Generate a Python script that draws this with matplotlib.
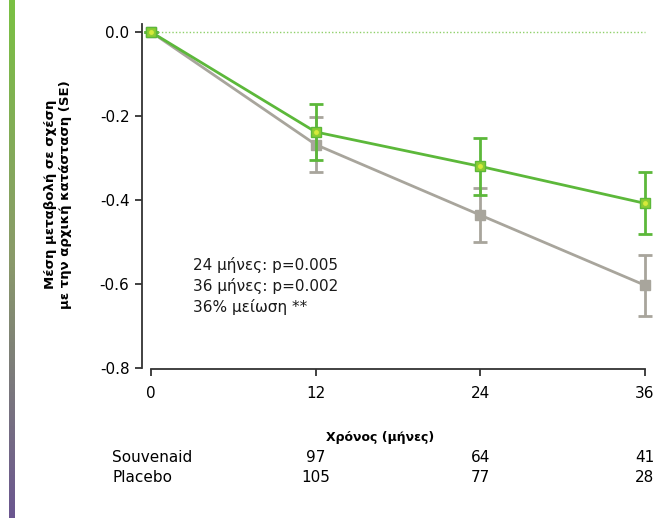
import numpy as np
import matplotlib
matplotlib.use("Agg")
import matplotlib.pyplot as plt
from matplotlib.colors import LinearSegmentedColormap

months = [0, 12, 24, 36]
souvenaid_mean = [0.0, -0.238, -0.320, -0.408]
souvenaid_se = [0.0, 0.066, 0.067, 0.074]
placebo_mean = [0.0, -0.268, -0.436, -0.603]
placebo_se = [0.0, 0.065, 0.065, 0.072]
yticks = [0.0, -0.2, -0.4, -0.6, -0.8]
n_souvenaid = [97, 64, 41]
n_placebo = [105, 77, 28]
annot_lines = ["24 μήνες: p=0.005", "36 μήνες: p=0.002", "36% μείωση **"]

W, H = 662, 518
fig = plt.figure(figsize=(W / 100, H / 100), dpi=100)
plt.rcParams['font.family'] = ['DejaVu Sans']

# left gradient bar
bar_ax = fig.add_axes([9 / W, 0, 6 / W, 1])
cmap = LinearSegmentedColormap.from_list("g", ["#7ac143", "#8a9a6a", "#6b5690"])
bar_ax.imshow(np.linspace(0, 1, 256).reshape(-1, 1), aspect='auto', cmap=cmap)
bar_ax.axis('off')

# main axes
x0_px, x36_px = 151, 645
y0_px, y08_px = 32, 368
ax_left, ax_right, ax_top, ax_bot = 142, 655, 20, 369
ppx = (x36_px - x0_px) / 36.0
ppy = (y08_px - y0_px) / 0.8
ax = fig.add_axes([ax_left / W, 1 - ax_bot / H, (ax_right - ax_left) / W, (ax_bot - ax_top) / H])
ax.set_xlim(-(x0_px - ax_left) / ppx, 36 + (ax_right - x36_px) / ppx)
ax.set_ylim(-0.8 - (ax_bot - y08_px) / ppy, (y0_px - ax_top) / ppy)

green = '#5cb83a'
gray = '#a8a59c'

ax.plot([0, 36], [0, 0], linestyle=(0, (1, 1.5)), color='#8fd06a', lw=1.0, zorder=1)

ax.errorbar(months, placebo_mean, yerr=placebo_se, color=gray, lw=2.0, elinewidth=2.0,
            capsize=4.7, capthick=2.0, marker='s', markersize=7.5, markerfacecolor='#a8a59c',
            markeredgecolor='#a8a59c', zorder=3)
ax.errorbar(months, souvenaid_mean, yerr=souvenaid_se, color=green, lw=2.0, elinewidth=2.0,
            capsize=4.7, capthick=2.0, marker='s', markersize=7.5, markerfacecolor='#8ccc32',
            markeredgecolor='#5cb83a', zorder=4)
ax.plot(months, souvenaid_mean, linestyle='none', marker='o', markersize=3.5,
        markerfacecolor='#d6ea3a', markeredgecolor='none', zorder=5)

for s in ['top', 'right']:
    ax.spines[s].set_visible(False)
ax.spines['left'].set_bounds(-0.8, 0.02)
ax.spines['bottom'].set_bounds(0, 36)
ax.spines['left'].set_color('#333333')
ax.spines['bottom'].set_color('#333333')
ax.spines['left'].set_linewidth(1.3)
ax.spines['bottom'].set_linewidth(1.3)

ax.set_yticks(yticks)
ax.set_yticklabels([f"{v:.1f}" for v in yticks], fontsize=11)
ax.set_xticks(months)
ax.set_xticklabels([str(m) for m in months], fontsize=11)
ax.tick_params(axis='both', length=5, width=1.3, color='#333333')
ax.tick_params(axis='y', pad=4)
ax.tick_params(axis='x', pad=7)

ax.set_ylabel("Μέση μεταβολή σε σχέση\nμε την αρχική κατάσταση (SE)", fontsize=9.5,
              fontweight='bold', labelpad=20, linespacing=1.2)

for i, line in enumerate(annot_lines):
    fig.text(193 / W, 1 - (265 + 21 * i) / H, line, fontsize=11, va='center', ha='left', color='#1a1a1a')

fig.text(380 / W, 1 - 438 / H, "Χρόνος (μήνες)", fontsize=9, fontweight='bold', ha='center', va='center')

fig.text(112 / W, 1 - 458 / H, "Souvenaid", fontsize=11, ha='left', va='center')
fig.text(112 / W, 1 - 478 / H, "Placebo", fontsize=11, ha='left', va='center')
for m, a, b in zip(months[1:], n_souvenaid, n_placebo):
    xp = (x0_px + m * ppx) / W
    fig.text(xp, 1 - 458 / H, str(a), fontsize=11, ha='center', va='center')
    fig.text(xp, 1 - 478 / H, str(b), fontsize=11, ha='center', va='center')

fig.savefig("out.png", dpi=100)
